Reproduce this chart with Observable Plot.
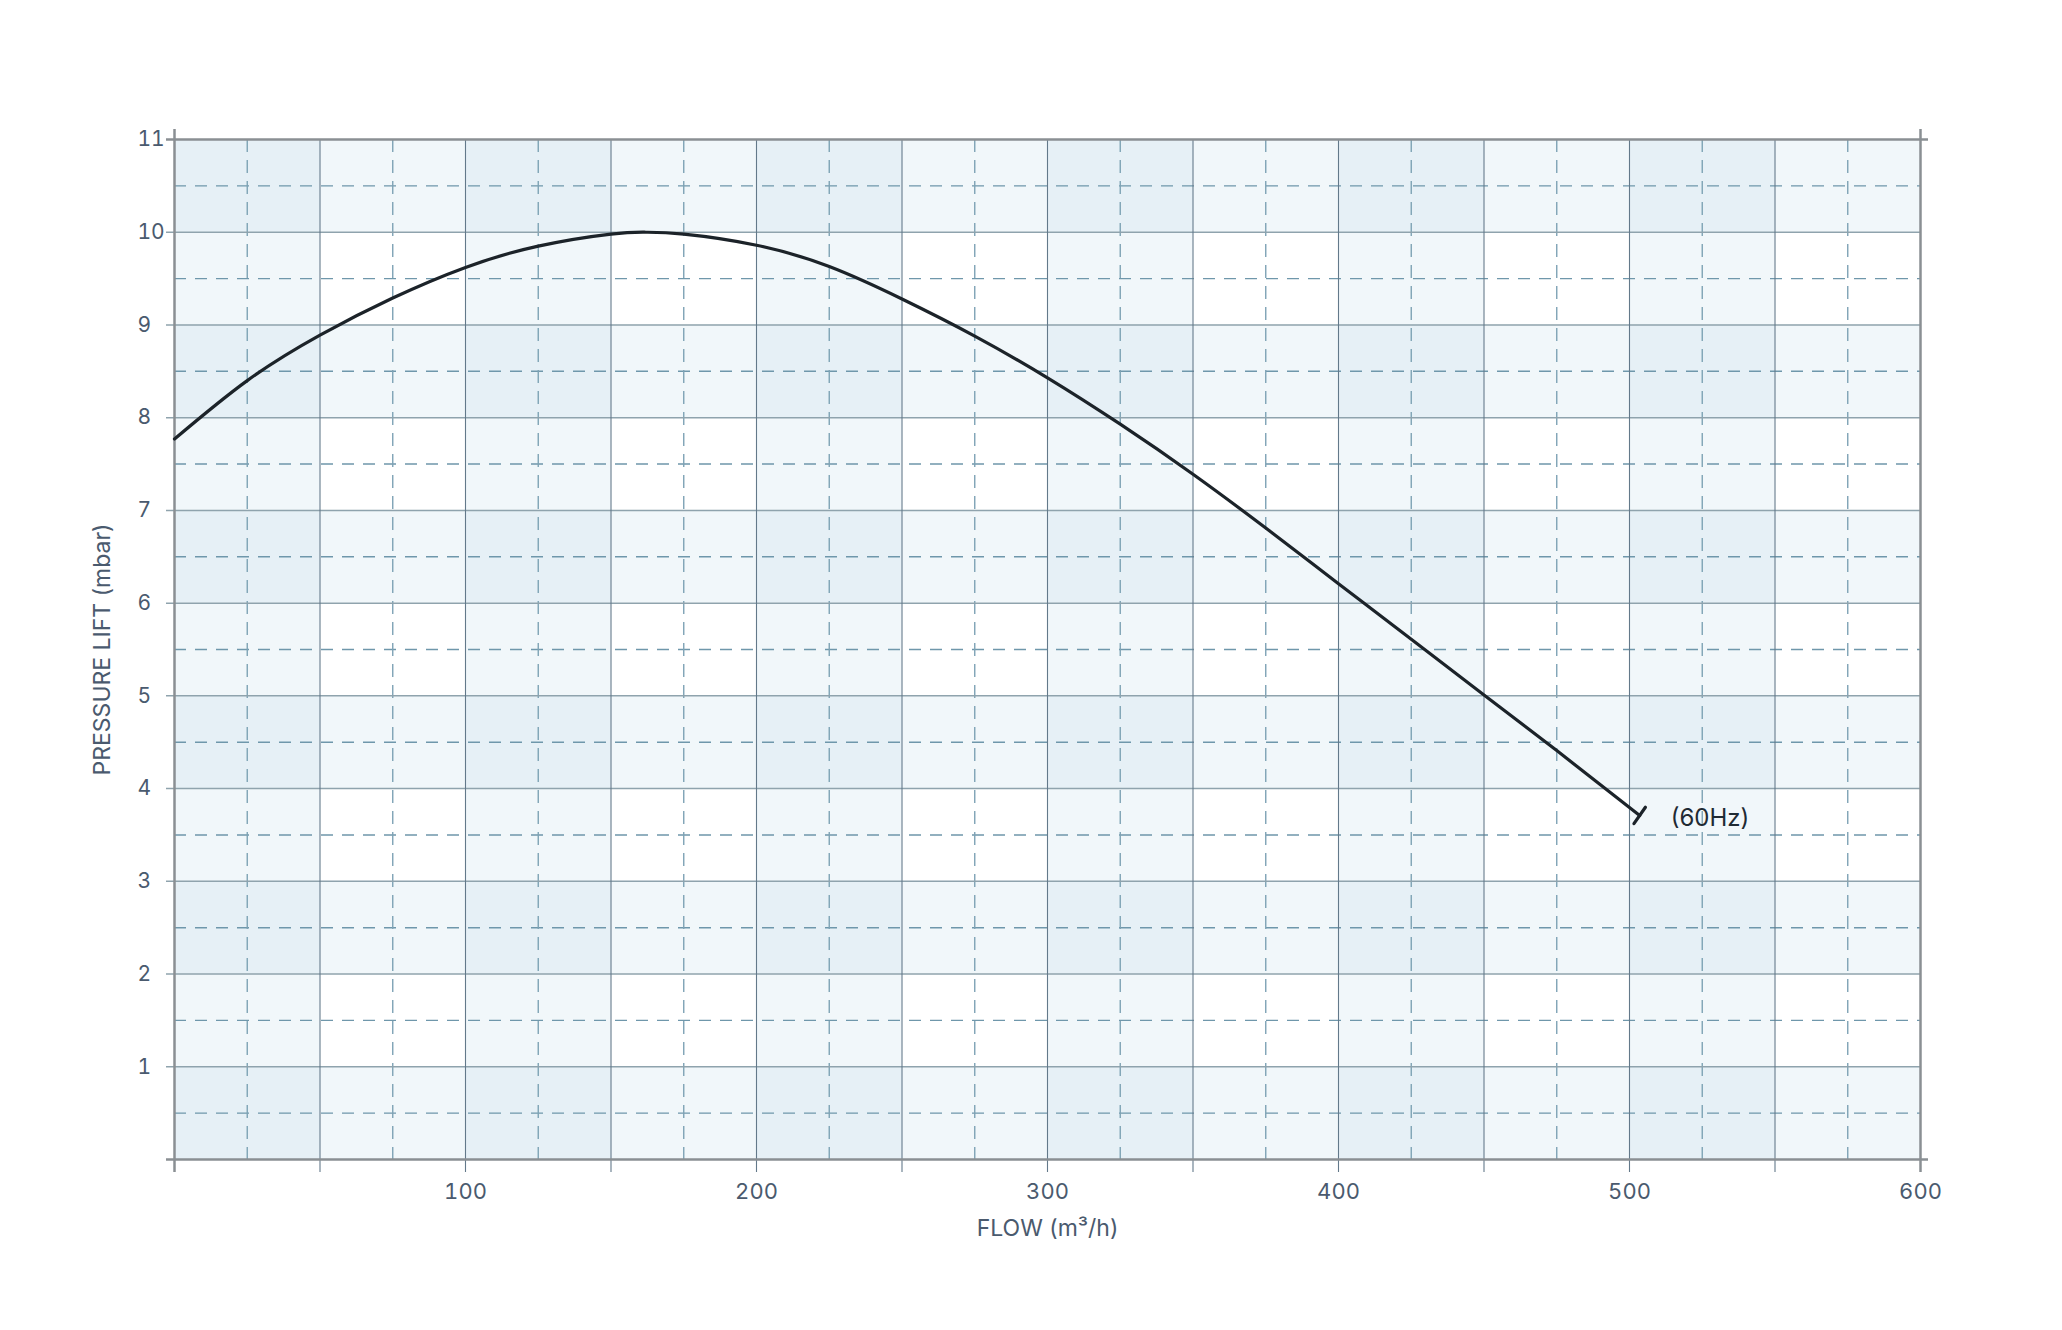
<!DOCTYPE html>
<html>
<head>
<meta charset="utf-8">
<script src="https://cdn.jsdelivr.net/npm/d3@7"></script>
<script src="https://cdn.jsdelivr.net/npm/@observablehq/plot@0.6"></script>
<style>
  html, body { margin: 0; padding: 0; background: #ffffff; }
  #chart { width: 2062px; height: 1330px; }
</style>
</head>
<body>
<div id="chart"></div>
<script>
// ---- data ----
const flow = [0, 25, 50, 75, 100, 125, 150, 162, 175, 200, 225, 250, 275, 300, 325, 350, 375, 400, 425, 450, 475, 503.5];
const lift = [7.77, 8.40, 8.89, 9.29, 9.62, 9.85, 9.98, 10.0, 9.98, 9.86, 9.63, 9.28, 8.88, 8.43, 7.93, 7.39, 6.81, 6.21, 5.61, 5.01, 4.41, 3.71];
const seriesLabel = "(60Hz)";

// axes / grid
const xDomain = [0, 600];
const yDomain = [0, 11];
const xLabelTicks = [100, 200, 300, 400, 500, 600];
const xMajor = [50, 100, 150, 200, 250, 300, 350, 400, 450, 500, 550];
const xMinor = [25, 75, 125, 175, 225, 275, 325, 375, 425, 475, 525, 575];
const yLabelTicks = [1, 2, 3, 4, 5, 6, 7, 8, 9, 10, 11];
const yMajor = [1, 2, 3, 4, 5, 6, 7, 8, 9, 10];
const yMinor = [0.5, 1.5, 2.5, 3.5, 4.5, 5.5, 6.5, 7.5, 8.5, 9.5, 10.5];
const colBands = [[0, 50], [100, 150], [200, 250], [300, 350], [400, 450], [500, 550]];
const rowBands = [[0, 1], [2, 3], [4, 5], [6, 7], [8, 9], [10, 11]];
const xTitle = "FLOW (m³/h)";
const yTitle = "PRESSURE LIFT (mbar)";

const curve = flow.map((x, i) => ({x, y: lift[i]}));
const endPoint = curve[curve.length - 1];

const textColor = "#4a5a6e";
const font = "Inter, 'Open Sans', sans-serif";
const bandFill = "#bedae8";
const bandOpacity = 0.214;

const chart = Plot.plot({
  width: 2062,
  height: 1330,
  marginLeft: 174,
  marginRight: 142,
  marginTop: 139,
  marginBottom: 171,
  x: {domain: xDomain, axis: null},
  y: {domain: yDomain, axis: null},
  style: {fontFamily: font, background: "#ffffff", overflow: "visible"},
  marks: [
    // checker shading
    Plot.rect(colBands, {x1: d => d[0], x2: d => d[1], y1: yDomain[0], y2: yDomain[1], fill: bandFill, fillOpacity: bandOpacity}),
    Plot.rect(rowBands, {y1: d => d[0], y2: d => d[1], x1: xDomain[0], x2: xDomain[1], fill: bandFill, fillOpacity: bandOpacity}),
    // dashed grid
    Plot.ruleY(yMinor, {stroke: "#6f97ab", strokeWidth: 1.4, strokeDasharray: "12,9"}),
    Plot.ruleX(xMinor, {stroke: "#7ea3b5", strokeWidth: 1.4, strokeDasharray: "13,8"}),
    // solid grid
    Plot.ruleY(yMajor, {stroke: "#8fa3ad", strokeWidth: 1.5, insetLeft: -8}),
    Plot.ruleX(xMajor, {stroke: "#63798a", strokeWidth: 1.1, insetBottom: -13}),
    // frame
    Plot.ruleY(yDomain, {stroke: "#8a8f93", strokeWidth: 2.5, insetLeft: -8, insetRight: -8}),
    Plot.ruleX(xDomain, {stroke: "#8a8f93", strokeWidth: 2.5, insetTop: -10, insetBottom: -13}),
    // tick labels
    Plot.text(yLabelTicks, {y: d => d, frameAnchor: "left", dx: -37, textAnchor: "start", lineAnchor: "middle", fill: textColor, fontSize: 21}),
    Plot.text(xLabelTicks, {x: d => d, frameAnchor: "bottom", dy: 32, textAnchor: "middle", lineAnchor: "middle", fill: textColor, fontSize: 22}),
    // axis titles
    Plot.text([xTitle], {text: d => d, frameAnchor: "bottom", dy: 69, textAnchor: "middle", lineAnchor: "middle", fill: textColor, fontSize: 23}),
    Plot.text([yTitle], {text: d => d, frameAnchor: "left", dx: -72, rotate: -90, textAnchor: "middle", lineAnchor: "middle", fill: textColor, fontSize: 23}),
    // the curve
    Plot.line(curve, {x: "x", y: "y", curve: "natural", stroke: "#1c2329", strokeWidth: 3.2}),
    // end cap
    Plot.vector([endPoint], {
      x: "x", y: "y", rotate: 35, length: 20, anchor: "middle",
      stroke: "#1c2329", strokeWidth: 3.2,
      shape: {draw(context, l) { context.moveTo(0, 0); context.lineTo(0, -l); }}
    }),
    // series label
    Plot.text([endPoint], {x: "x", y: "y", text: () => seriesLabel, dx: 31, dy: 3, textAnchor: "start", lineAnchor: "middle", fill: "#1f2a33", fontSize: 24})
  ]
});
document.getElementById("chart").append(chart);
</script>
</body>
</html>
